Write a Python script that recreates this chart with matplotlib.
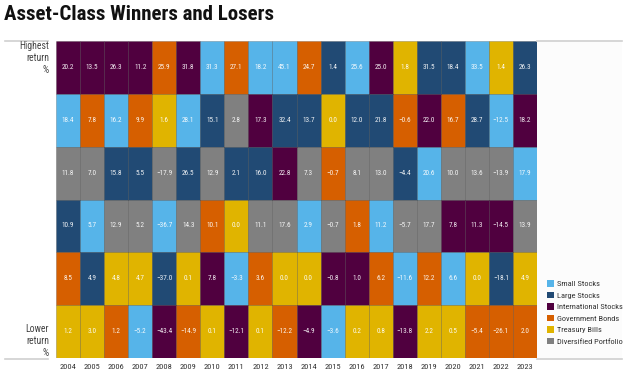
import matplotlib
matplotlib.use("Agg")
import matplotlib.pyplot as plt
from matplotlib.patches import Patch, Rectangle
from matplotlib.lines import Line2D

plt.rcParams['font.family'] = ['Roboto Condensed', 'DejaVu Sans']

years = [str(y) for y in range(2004, 2024)]
asset_classes = ["Small Stocks", "Large Stocks", "International Stocks",
                 "Government Bonds", "Treasury Bills", "Diversified Portfolio"]
class_colors = ["#56B4E9", "#214A74", "#50003F", "#D65F00", "#E0B400", "#808080"]

# Ranked grid: rank 1 = highest return. Codes: S, L, I, G, T, D
code_index = {"S": 0, "L": 1, "I": 2, "G": 3, "T": 4, "D": 5}
rank1_class = ["I","I","I","I","G","I","S","G","S","S","G","L","S","I","T","L","L","S","T","L"]
rank1_value = [20.2,13.5,26.3,11.2,25.9,31.8,31.3,27.1,18.2,45.1,24.7,1.4,25.6,25.0,1.8,31.5,18.4,33.5,1.4,26.3]
rank2_class = ["S","G","S","G","T","S","L","D","I","L","L","T","L","L","G","I","G","L","S","I"]
rank2_value = [18.4,7.8,16.2,9.9,1.6,28.1,15.1,2.8,17.3,32.4,13.7,0.0,12.0,21.8,-0.6,22.0,16.7,28.7,-12.5,18.2]
rank3_class = ["D","D","L","L","D","L","D","L","L","I","D","G","D","D","L","S","D","D","D","S"]
rank3_value = [11.8,7.0,15.8,5.5,-17.9,26.5,12.9,2.1,16.0,22.8,7.3,-0.7,8.1,13.0,-4.4,20.6,10.0,13.6,-13.9,17.9]
rank4_class = ["L","S","D","D","S","D","G","T","D","D","S","D","G","S","D","D","I","I","I","D"]
rank4_value = [10.9,5.7,12.9,5.2,-36.7,14.3,10.1,0.0,11.1,17.6,2.9,-0.7,1.8,11.2,-5.7,17.7,7.8,11.3,-14.5,13.9]
rank5_class = ["G","L","T","T","L","T","I","S","G","T","T","I","I","G","S","G","S","T","L","T"]
rank5_value = [8.5,4.9,4.8,4.7,-37.0,0.1,7.8,-3.3,3.6,0.0,0.0,-0.8,1.0,6.2,-11.6,12.2,6.6,0.0,-18.1,4.9]
rank6_class = ["T","T","G","S","I","G","T","I","T","G","I","S","T","T","I","T","T","G","G","G"]
rank6_value = [1.2,3.0,1.2,-5.2,-43.4,-14.9,0.1,-12.1,0.1,-12.2,-4.9,-3.6,0.2,0.8,-13.8,2.2,0.5,-5.4,-26.1,2.0]

grid_classes = [rank1_class, rank2_class, rank3_class, rank4_class, rank5_class, rank6_class]
grid_values = [rank1_value, rank2_value, rank3_value, rank4_value, rank5_value, rank6_value]

W, H = 624, 374
fig = plt.figure(figsize=(W / 100, H / 100), dpi=100)
fig.patch.set_facecolor("white")

gx0, gx1, gy0, gy1 = 56, 537, 41, 358
ax = fig.add_axes([gx0 / W, 1 - gy1 / H, (gx1 - gx0) / W, (gy1 - gy0) / H])

ncols = len(years)
for r, (cls_row, val_row) in enumerate(zip(grid_classes, grid_values)):
    xs = list(range(ncols))
    cols = [class_colors[code_index[c]] for c in cls_row]
    ax.bar(xs, [1] * ncols, bottom=r, width=1.0, align="edge", color=cols,
           edgecolor=(0, 0, 0, 0.22), linewidth=0.6)
    for x, v in zip(xs, val_row):
        ax.text(x + 0.5, r + 0.5, f"{v:.1f}".replace("-", "\u2212"), ha="center", va="center",
                color=(1, 1, 1, 0.92), fontsize=5.2)

ax.set_xlim(0, ncols)
ax.set_ylim(6, 0)
ax.set_yticks([])
ax.set_xticks([i + 0.5 for i in range(ncols)])
ax.set_xticklabels(years, fontsize=6, color="#333333")
ax.tick_params(axis="x", length=0, pad=4.5)
for s in ax.spines.values():
    s.set_visible(False)

# Title
fig.text(4 / W, 1 - 14 / H, "Asset-Class Winners and Losers", fontsize=15,
         fontweight="bold", ha="left", va="center", color="#111111")

# Side labels
fig.text(49 / W, 1 - 58 / H, "Highest\nreturn\n%", ha="right", va="center",
         fontsize=7, color="#444444", linespacing=1.2)
fig.text(49 / W, 1 - 341 / H, "Lower\nreturn\n%", ha="right", va="center",
         fontsize=7, color="#444444", linespacing=1.2)

# Right panel background and rule lines
fig.add_artist(Rectangle((gx1 / W, 1 - gy1 / H), (622 - gx1) / W, (gy1 - gy0) / H,
                         transform=fig.transFigure, facecolor="#fcfcfc", edgecolor="none", zorder=0))
for (x0, x1) in [(5, 48), (gx1, 622)]:
    for y in (gy0, gy1 + 0.5):
        fig.add_artist(Line2D([x0 / W, x1 / W], [1 - y / H, 1 - y / H],
                              transform=fig.transFigure, color="#d0d0d0", linewidth=1.2))

handles = [Patch(facecolor=c, edgecolor="none") for c in class_colors]
leg = fig.legend(handles, asset_classes, loc="upper left",
                 bbox_to_anchor=(547 / W, 1 - 280 / H), frameon=False,
                 fontsize=6.0, labelspacing=0.52, handlelength=0.85, handleheight=0.85,
                 handletextpad=0.3, borderpad=0, borderaxespad=0)
for t in leg.get_texts():
    t.set_color("#333333")

fig.savefig("out.png", dpi=100, facecolor="white")
